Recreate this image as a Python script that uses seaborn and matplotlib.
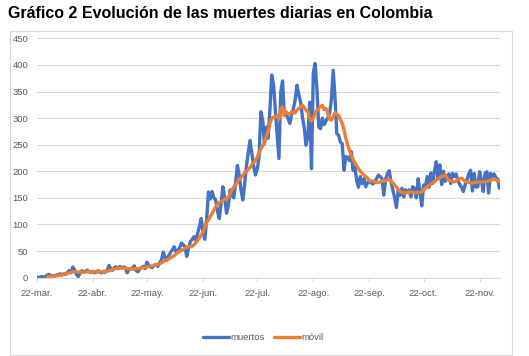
import numpy as np
import pandas as pd
import matplotlib
matplotlib.use("Agg")
import matplotlib.pyplot as plt
import seaborn as sns
from matplotlib.lines import Line2D
from matplotlib.patches import Rectangle

start_date = "2020-03-22"

muertos = [
    1, 0, 1, 2, 0, 3, 5, 6, 2, 4,
    3, 5, 6, 7, 5, 7, 6, 10, 13, 9,
    20, 14, 6, 2, 9, 13, 10, 12, 14, 11,
    10, 12, 9, 11, 13, 10, 9, 12, 10, 14,
    23, 16, 14, 19, 20, 17, 21, 18, 20, 19,
    9, 15, 17, 18, 22, 13, 11, 16, 19, 21,
    17, 29, 22, 20, 19, 23, 25, 21, 28, 33,
    48, 38, 33, 41, 47, 52, 58, 49, 51, 55,
    65, 62, 58, 40, 55, 68, 72, 77, 70, 83,
    96, 111, 85, 72, 110, 161, 148, 162, 150, 146,
    125, 111, 140, 171, 150, 121, 135, 165, 155, 150,
    178, 211, 193, 165, 146, 175, 210, 235, 258, 234,
    210, 193, 204, 227, 312, 297, 252, 283, 262, 315,
    381, 364, 315, 270, 224, 350, 370, 305, 310, 300,
    290, 307, 318, 335, 362, 344, 330, 302, 281, 249,
    265, 330, 205, 385, 403, 355, 284, 280, 300, 288,
    295, 300, 309, 334, 390, 340, 271, 268, 255, 252,
    202, 228, 226, 220, 237, 202, 208, 183, 170, 190,
    177, 186, 171, 178, 183, 178, 176, 180, 186, 193,
    190, 186, 155, 185, 196, 201, 180, 165, 150, 132,
    165, 155, 168, 152, 165, 160, 165, 152, 171, 168,
    150, 186, 162, 135, 174, 170, 190, 170, 197, 177,
    200, 218, 186, 212, 175, 200, 181, 190, 195, 177,
    196, 190, 195, 182, 175, 170, 162, 175, 184, 195,
    202, 163, 196, 170, 171, 199, 183, 162, 196, 199,
    159, 196, 190, 195, 188, 185, 168,
]

nan = float("nan")
movil = [
    nan, nan, nan, nan, nan, nan, 2, 2, 2.5, 3,
    3, 3.5, 4, 4.5, 5, 6, 7, 8, 9, 10,
    11, 11, 11, 10.5, 10.5, 10.5, 10, 10.5, 11, 11,
    11, 11, 11, 11, 11, 11, 11, 11.5, 12, 12,
    13, 14, 15, 16, 17, 17.5, 18, 18, 18, 17.5,
    17, 16.5, 16, 16, 16, 16.5, 17, 17.5, 18, 18.5,
    19, 20, 21, 22, 22, 23, 24, 25, 26, 28,
    30, 32, 33, 35, 37, 39, 41, 44, 47, 49,
    51, 53, 55, 57, 58, 58, 59, 62, 66, 70,
    75, 80, 86, 95, 105, 108, 115, 120, 127, 133,
    138, 141, 143, 145, 147, 149, 151, 158, 165, 170,
    174, 180, 185, 188, 192, 197, 200, 204, 207, 212,
    216, 220, 227, 235, 242, 248, 254, 265, 274, 290,
    299, 302, 302, 305, 298, 318, 321, 305, 312, 308,
    307, 312, 310, 310, 315, 318, 321, 324, 320, 315,
    312, 300, 294, 300, 309, 315, 318, 322, 324, 316,
    318, 310, 298, 296, 303, 310, 307, 305, 297, 290,
    278, 262, 250, 240, 229, 222, 216, 210, 205, 200,
    196, 193, 190, 187, 183, 182, 181, 180, 179, 179,
    180, 181, 182, 182, 184, 185, 182, 178, 174, 170,
    166, 162, 160, 159, 160, 160, 161, 161, 161, 160,
    160, 160, 160, 161, 165, 168, 171, 174, 176, 178,
    180, 184, 186, 188, 190, 192, 193, 188, 183, 182,
    181, 180, 182, 185, 186, 187, 184, 181, 180, 179,
    178, 178, 179, 179, 180, 180, 180, 180, 180, 181,
    182, 183, 184, 185, 184, 182, 180,
]

tick_dates = ["2020-03-22", "2020-04-22", "2020-05-22", "2020-06-22", "2020-07-22",
              "2020-08-22", "2020-09-22", "2020-10-22", "2020-11-22"]
tick_labels = ["22-mar.", "22-abr.", "22-may.", "22-jun.", "22-jul.",
               "22-ago.", "22-sep.", "22-oct.", "22-nov."]
y_ticks = [0, 50, 100, 150, 200, 250, 300, 350, 400, 450]
series_names = ["muertos", "móvil"]
colors = {"muertos": "#4472C4", "móvil": "#ED7D31"}
title = "Gráfico 2 Evolución de las muertes diarias en Colombia"

if len(muertos) != len(movil):
    raise ValueError(f"length mismatch {len(muertos)} {len(movil)}")

dates = pd.date_range(start_date, periods=len(muertos), freq="D")
df = pd.DataFrame({"fecha": dates, "muertos": muertos, "móvil": movil})
long = df.melt(id_vars="fecha", var_name="serie", value_name="valor")

sns.set_theme(style="white")
plt.rcParams["font.family"] = ["Liberation Sans", "DejaVu Sans"]

W, H = 529, 356
fig = plt.figure(figsize=(W / 100, H / 100), dpi=100)
fig.patch.set_facecolor("white")

left, right, top, bottom = 36.7, 499.5, 38.4, 277.6
ax = fig.add_axes([left / W, 1 - bottom / H, (right - left) / W, (bottom - top) / H])

sns.lineplot(data=long, x="fecha", y="valor", hue="serie", hue_order=series_names,
             palette=colors, linewidth=2.4, ax=ax, legend=False)

ax.set_xlim(dates[0], dates[-1])
ax.set_ylim(0, 450)
ax.set_yticks(y_ticks)
ax.set_yticklabels([str(v) for v in y_ticks])
ax.set_xticks(pd.to_datetime(tick_dates))
ax.set_xticklabels(tick_labels)
ax.set_xlabel("")
ax.set_ylabel("")

ax.grid(axis="y", color="#d9d9d9", linewidth=0.8)
ax.grid(axis="x", visible=False)
ax.set_axisbelow(True)
for s in ["top", "right", "left"]:
    ax.spines[s].set_visible(False)
ax.spines["bottom"].set_color("#d9d9d9")
ax.spines["bottom"].set_linewidth(0.8)

ax.tick_params(axis="y", length=0, pad=6, labelsize=6.8, labelcolor="#595959")
ax.tick_params(axis="x", length=3, width=0.8, color="#d9d9d9", pad=5,
               labelsize=6.8, labelcolor="#595959", direction="out", bottom=True)

fig.text(8 / W, 1 - 13 / H, title, fontsize=11.5, fontweight="bold",
         ha="left", va="center", color="black")

handles = [Line2D([0], [0], color=colors[n], lw=2.4) for n in series_names]
fig.legend(handles, series_names, loc="center", bbox_to_anchor=(263 / W, 1 - 338 / H),
           ncol=2, frameon=False, fontsize=6.8, handlelength=2.8, handletextpad=0.1,
           columnspacing=1.0, labelcolor="#595959")

fig.patches.append(Rectangle((10 / W, 1 - 355 / H), (512 - 10) / W, (355 - 30.7) / H,
                             transform=fig.transFigure, fill=False,
                             edgecolor="#d9d9d9", linewidth=0.8))

fig.savefig("out.png", dpi=100)
